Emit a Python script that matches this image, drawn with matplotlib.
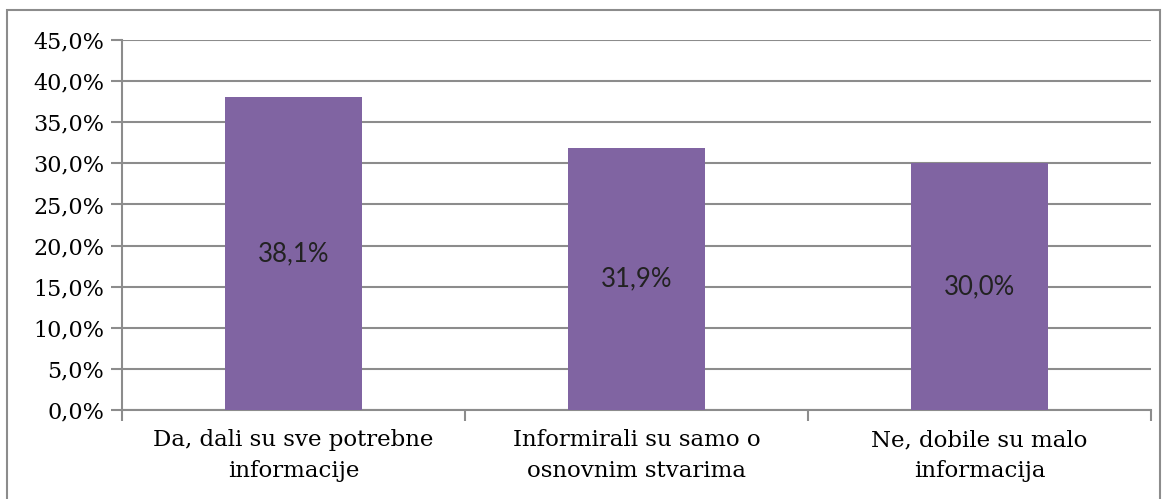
"""
Bar chart of survey answers (percent), Excel-style purple bars with value labels.
"""

import matplotlib.pyplot as plt
from matplotlib.patches import Rectangle
from matplotlib.ticker import FuncFormatter, MultipleLocator

categories = [
    "Da, dali su sve potrebne\ninformacije",
    "Informirali su samo o\nosnovnim stvarima",
    "Ne, dobile su malo\ninformacija",
]
values = [38.1, 31.9, 30.0]

BAR = "#8064A2"
GRID = "#8c8c8c"
W, H = 1167, 499
SERIF = "DejaVu Serif"

fig = plt.figure(figsize=(W / 100, H / 100), dpi=100)
# axes box in pixel coords: left 122, right 1151, top 40, bottom 410
ax = fig.add_axes([122 / W, 1 - 410 / H, (1151 - 122) / W, (410 - 40) / H])

# outer chart border
fig.patches.append(Rectangle((7 / W, -0.05), (1160 - 7) / W, 1 - 10 / H + 0.05,
                             transform=fig.transFigure, fill=False,
                             edgecolor=GRID, lw=1.5))

x = range(len(categories))
ax.bar(x, values, width=0.4, color=BAR, zorder=3)
for xi, v in zip(x, values):
    ax.text(xi, v / 2, f"{v:.1f}%".replace(".", ","), ha="center", va="center",
            fontsize=18.5, family="Lato", color="#222222", zorder=4)

ax.set_xlim(-0.5, 2.5)
ax.set_ylim(0, 45)
ax.yaxis.set_major_locator(MultipleLocator(5))
ax.yaxis.set_major_formatter(FuncFormatter(lambda v, _: f"{v:.1f}%".replace(".", ",")))
ax.grid(axis="y", color=GRID, lw=1.5, zorder=0)

ax.set_xticks([-0.5, 0.5, 1.5, 2.5], minor=False)
ax.set_xticklabels([])
ax.set_xticks(list(x), minor=True)
ax.set_xticklabels(categories, minor=True, fontsize=16.5, family=SERIF,
                   linespacing=1.5)
ax.tick_params(axis="x", which="major", length=8, width=1.5, color=GRID, direction="out")
ax.tick_params(axis="x", which="minor", length=0, pad=14)
ax.tick_params(axis="y", length=8, width=1.5, color=GRID, labelsize=16, pad=5)
for lbl in ax.get_yticklabels():
    lbl.set_family(SERIF)

for side in ("top", "right"):
    ax.spines[side].set_visible(False)
for side in ("left", "bottom"):
    ax.spines[side].set_color(GRID)
    ax.spines[side].set_linewidth(1.5)

fig.savefig("out.png", dpi=100)
